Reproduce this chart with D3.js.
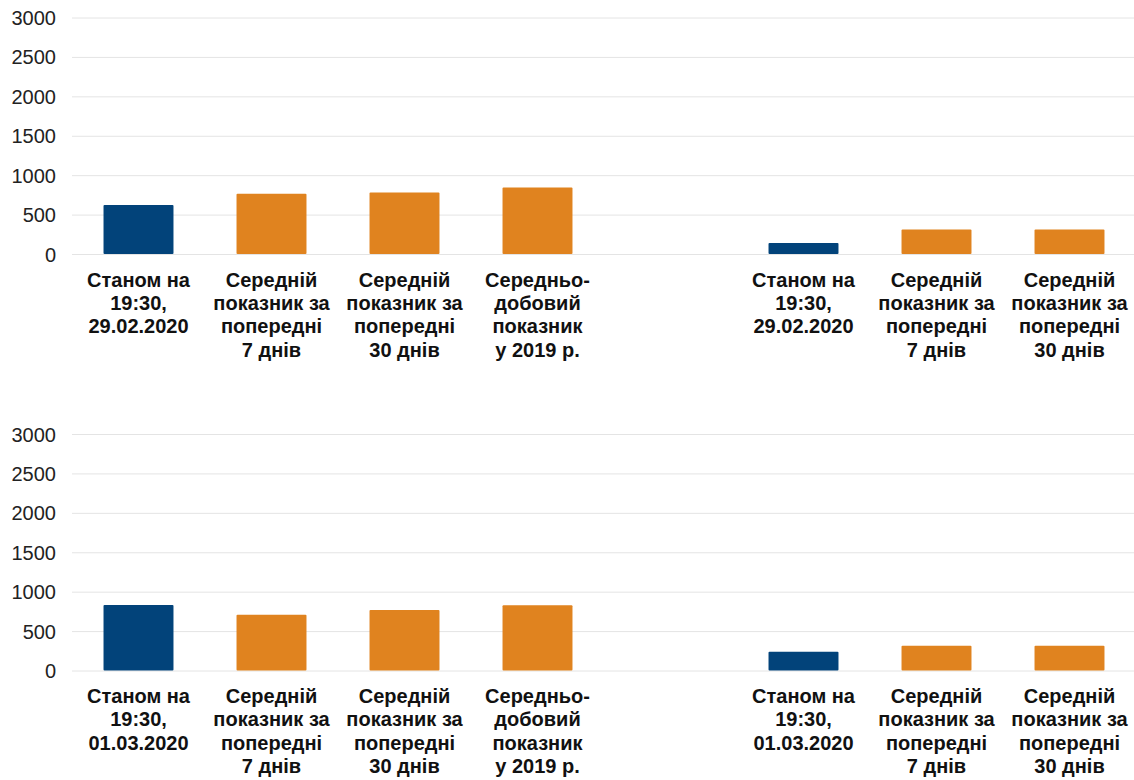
<!DOCTYPE html>
<html>
<head>
<meta charset="utf-8">
<script src="https://cdn.jsdelivr.net/npm/d3@7"></script>
<style>
  body { margin: 0; background: #fff; }
  svg { display: block; font-family: "Liberation Sans", Arial, sans-serif; }
  .grid line { stroke: #e4e4e4; stroke-width: 1; }
  .grid path { display: none; }
  .grid text { font-size: 20px; fill: #222; font-family: "Liberation Sans", Arial, sans-serif; }
  .cat { font-size: 20px; font-weight: bold; fill: #111; }
</style>
</head>
<body>
<div id="chart"></div>
<script>
var width = 1134, height = 780;

// categories (slot "gap" is an empty spacer between the two groups)
var keys = ["now", "avg7", "avg30", "avg2019", "gap", "now2", "avg7b", "avg30b"];
var labelsTop = ["Станом на\n19:30,\n29.02.2020", "Середній\nпоказник за\nпопередні\n7 днів",
  "Середній\nпоказник за\nпопередні\n30 днів", "Середньо-\nдобовий\nпоказник\nу 2019 р.", "",
  "Станом на\n19:30,\n29.02.2020", "Середній\nпоказник за\nпопередні\n7 днів",
  "Середній\nпоказник за\nпопередні\n30 днів"];
var labelsBottom = ["Станом на\n19:30,\n01.03.2020", "Середній\nпоказник за\nпопередні\n7 днів",
  "Середній\nпоказник за\nпопередні\n30 днів", "Середньо-\nдобовий\nпоказник\nу 2019 р.", "",
  "Станом на\n19:30,\n01.03.2020", "Середній\nпоказник за\nпопередні\n7 днів",
  "Середній\nпоказник за\nпопередні\n30 днів"];
var valuesTop = [623, 763, 780, 843, null, 141, 312, 312];
var valuesBottom = [832, 706, 769, 828, null, 238, 314, 314];
var kinds = ["current", "average", "average", "average", null, "current", "average", "average"];
var yTicks = [0, 500, 1000, 1500, 2000, 2500, 3000];

var color = { current: "#02437A", average: "#E0831F" };

var svg = d3.select("#chart").append("svg")
    .attr("width", width)
    .attr("height", height);

var x = d3.scaleBand()
    .domain(keys)
    .range([72, 1136])
    .paddingInner(0.474)
    .paddingOuter(0.237);

drawPanel(valuesTop, labelsTop, 17.5, 254);
drawPanel(valuesBottom, labelsBottom, 434, 670.5);

function drawPanel(values, labels, top, bottom) {
  var y = d3.scaleLinear().domain([0, 3000]).range([bottom, top]);

  var g = svg.append("g");

  g.append("g")
      .attr("class", "grid")
      .attr("transform", "translate(72,0)")
      .call(d3.axisLeft(y).tickValues(yTicks).tickFormat(d3.format("d"))
        .tickSize(-(width - 72)).tickPadding(16))
      .call(function(a) { a.selectAll("text").attr("dy", "0.35em"); });

  var data = keys.map(function(k, i) {
    return { key: k, value: values[i], kind: kinds[i], label: labels[i] };
  });

  g.selectAll(".bar")
      .data(data.filter(function(d) { return d.value != null; }))
    .enter().append("rect")
      .attr("class", "bar")
      .attr("x", function(d) { return x(d.key); })
      .attr("width", x.bandwidth())
      .attr("y", function(d) { return y(d.value); })
      .attr("height", function(d) { return y(0) - y(d.value); })
      .attr("rx", 1)
      .style("fill", function(d) { return color[d.kind]; });

  var txt = g.selectAll(".cat")
      .data(data.filter(function(d) { return d.label; }))
    .enter().append("text")
      .attr("class", "cat")
      .attr("text-anchor", "middle")
      .attr("transform", function(d) {
        return "translate(" + (x(d.key) + x.bandwidth() / 2) + "," + (bottom + 32.5) + ")";
      });

  txt.selectAll("tspan")
      .data(function(d) { return d.label.split("\n"); })
    .enter().append("tspan")
      .attr("x", 0)
      .attr("y", function(d, i) { return i * 23.4; })
      .text(function(d) { return d; });
}
</script>
</body>
</html>
